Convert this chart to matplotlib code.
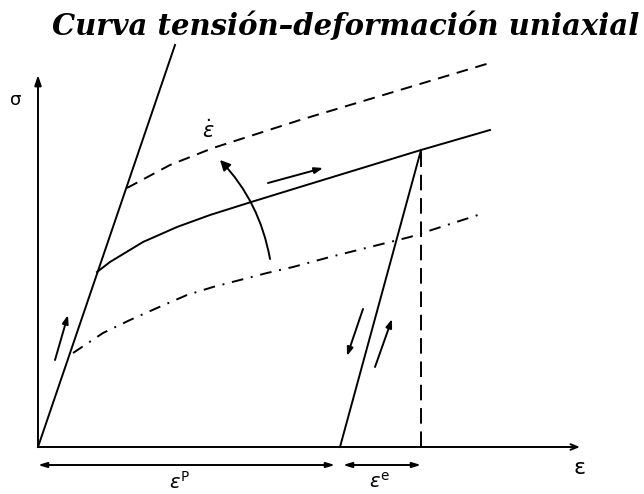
import numpy as np
import matplotlib
matplotlib.use("Agg")
import matplotlib.pyplot as plt
from matplotlib.patches import FancyArrowPatch

plt.rcParams['mathtext.fontset'] = 'dejavusans'

# strain / stress values (arbitrary units) of the schematic curves
elastic_eps = [0.0, 1.37]
elastic_sig = [0.0, 4.02]

hard_eps = [0.59, 0.72, 1.05, 1.39, 1.72, 2.10, 2.62, 3.83, 4.52]
hard_sig = [1.75, 1.85, 2.05, 2.20, 2.32, 2.44, 2.60, 2.97, 3.17]

fast_eps = [0.89, 1.32, 1.75, 2.62, 3.62, 4.55]
fast_sig = [2.59, 2.82, 2.99, 3.27, 3.57, 3.85]

slow_eps = [0.35, 0.65, 0.92, 1.19, 1.49, 1.75, 2.02, 2.29, 2.55, 2.92, 3.72, 4.40]
slow_sig = [0.94, 1.14, 1.27, 1.39, 1.52, 1.60, 1.67, 1.74, 1.80, 1.90, 2.10, 2.32]

unload_eps = [3.83, 3.02]
unload_sig = [2.97, 0.0]

eps_max, sig_max = 5.42, 3.72
eps_plastic = 3.02
eps_total = 3.83

fig = plt.figure(figsize=(6.44, 4.94), dpi=100)
ax = fig.add_axes([0, 0, 1, 1])
ax.set_xlim(-0.38, 6.06)
ax.set_ylim(-0.47, 4.47)
ax.axis('off')

lw = 1.4
ax.plot(elastic_eps, elastic_sig, color='black', lw=lw)
ax.plot(hard_eps, hard_sig, color='black', lw=lw, solid_joinstyle='round')
ax.plot(fast_eps, fast_sig, color='black', lw=lw, dashes=(6, 4))
ax.plot(slow_eps, slow_sig, color='black', lw=lw, dashes=(6, 4, 1, 4))
ax.plot(unload_eps, unload_sig, color='black', lw=lw)
ax.plot([eps_total, eps_total], [0, unload_sig[0]], color='black', lw=lw,
        dashes=(8, 4))

# axes with arrow heads
ax.annotate('', xy=(0, sig_max), xytext=(0, 0),
            arrowprops=dict(arrowstyle='-|>,head_length=0.6,head_width=0.2',
                            color='black', lw=lw, shrinkA=0, shrinkB=0))
ax.annotate('', xy=(eps_max, 0), xytext=(0, 0),
            arrowprops=dict(arrowstyle='->,head_length=0.5,head_width=0.2',
                            color='black', lw=lw, shrinkA=0, shrinkB=0))
ax.text(-0.22, 3.47, 'σ', fontsize=13, ha='center', va='center')
ax.text(5.42, -0.21, 'ε', fontsize=16, ha='center', va='center')

# plastic and elastic strain spans
ax.annotate('', xy=(eps_plastic - 0.05, -0.18), xytext=(0, -0.18),
            arrowprops=dict(arrowstyle='<|-|>,head_length=0.5,head_width=0.15',
                            color='black', lw=lw, shrinkA=0, shrinkB=0))
ax.annotate('', xy=(eps_total, -0.18), xytext=(eps_plastic + 0.03, -0.18),
            arrowprops=dict(arrowstyle='<|-|>,head_length=0.5,head_width=0.15',
                            color='black', lw=lw, shrinkA=0, shrinkB=0))
ax.text(1.42, -0.35, r'$\varepsilon^{\mathrm{P}}$', fontsize=14,
        ha='center', va='center')
ax.text(3.42, -0.35, r'$\varepsilon^{\mathrm{e}}$', fontsize=14,
        ha='center', va='center')

# direction arrows along the paths
small = dict(arrowstyle='-|>,head_length=0.5,head_width=0.18', color='black',
             lw=lw, shrinkA=0, shrinkB=0)
ax.annotate('', xy=(0.30, 1.32), xytext=(0.17, 0.87), arrowprops=small)
ax.annotate('', xy=(2.85, 2.79), xytext=(2.30, 2.64), arrowprops=small)
ax.annotate('', xy=(3.09, 0.91), xytext=(3.25, 1.38), arrowprops=small)
ax.annotate('', xy=(3.54, 1.28), xytext=(3.37, 0.80), arrowprops=small)

# increasing strain rate
rate = FancyArrowPatch((2.32, 1.88), (1.82, 2.87),
                       connectionstyle='arc3,rad=0.15',
                       arrowstyle='-|>,head_length=6,head_width=3',
                       color='black', lw=lw, shrinkA=0, shrinkB=0)
ax.add_patch(rate)
ax.text(1.70, 3.16, r'$\dot{\varepsilon}$', fontsize=15, ha='center',
        va='center')

fig.text(0.537, 1 - 35 / 494, 'Curva tensión–deformación uniaxial',
         fontsize=21, family='DejaVu Serif', weight='bold', style='italic',
         ha='center', va='baseline')

fig.savefig('out.png', dpi=100, facecolor='white')
